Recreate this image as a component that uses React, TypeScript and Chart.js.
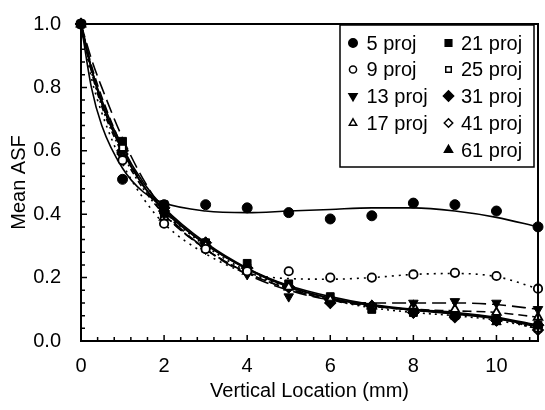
import React, { useEffect, useRef } from 'react';
import { Chart, registerables } from 'chart.js';
import { drawPoint } from 'chart.js/helpers';

Chart.register(...registerables);

// ---- data ----
const xPositions = [0, 1, 2, 3, 4, 5, 6, 7, 8, 9, 10, 11];
const seriesLabels = ['5 proj', '9 proj', '13 proj', '17 proj', '21 proj', '25 proj', '31 proj', '41 proj', '61 proj'];

const proj5 = [1.0, 0.51, 0.43, 0.43, 0.42, 0.405, 0.385, 0.395, 0.435, 0.43, 0.41, 0.36];
const proj9 = [1.0, 0.57, 0.37, 0.29, 0.22, 0.22, 0.2, 0.2, 0.21, 0.215, 0.205, 0.165];
const proj13 = [1.0, 0.58, 0.4, 0.29, 0.21, 0.14, 0.12, 0.11, 0.12, 0.125, 0.12, 0.1];
const proj17 = [1.0, 0.58, 0.39, 0.3, 0.22, 0.17, 0.13, 0.11, 0.11, 0.1, 0.09, 0.075];
const proj21 = [1.0, 0.63, 0.43, 0.31, 0.245, 0.18, 0.14, 0.1, 0.09, 0.08, 0.065, 0.05];
const proj25 = [1.0, 0.61, 0.4, 0.3, 0.23, 0.18, 0.13, 0.1, 0.09, 0.08, 0.07, 0.04];
const proj31 = [1.0, 0.6, 0.42, 0.31, 0.23, 0.17, 0.13, 0.11, 0.09, 0.08, 0.065, 0.05];
const proj41 = [1.0, 0.59, 0.41, 0.3, 0.22, 0.17, 0.12, 0.11, 0.09, 0.075, 0.07, 0.035];
const proj61 = [1.0, 0.6, 0.41, 0.31, 0.23, 0.17, 0.13, 0.11, 0.1, 0.08, 0.06, 0.05];

// fitted curves at these x positions
const fitX = [0, 0.25, 0.5, 1, 1.5, 2, 3, 4, 5, 6, 7, 8, 9, 10, 11];
const fit5 = [1.0, 0.8, 0.68, 0.545, 0.47, 0.435, 0.41, 0.405, 0.41, 0.415, 0.42, 0.42, 0.41, 0.39, 0.36];
const fit9 = [1.0, 0.83, 0.72, 0.56, 0.45, 0.37, 0.275, 0.215, 0.197, 0.195, 0.2, 0.21, 0.213, 0.203, 0.165];
const fit13 = [1.0, 0.89, 0.8, 0.64, 0.51, 0.41, 0.29, 0.21, 0.16, 0.13, 0.12, 0.12, 0.12, 0.115, 0.1];
const fit17 = [1.0, 0.87, 0.77, 0.61, 0.49, 0.4, 0.29, 0.215, 0.165, 0.13, 0.11, 0.1, 0.095, 0.09, 0.075];
const fit21 = [1.0, 0.86, 0.76, 0.61, 0.5, 0.42, 0.31, 0.23, 0.175, 0.14, 0.115, 0.1, 0.09, 0.075, 0.05];
const fit25 = [1.0, 0.85, 0.75, 0.6, 0.49, 0.41, 0.3, 0.22, 0.17, 0.13, 0.105, 0.09, 0.08, 0.065, 0.04];
const fit31 = [1.0, 0.86, 0.75, 0.6, 0.49, 0.415, 0.305, 0.228, 0.172, 0.135, 0.113, 0.098, 0.087, 0.072, 0.048];
const fit41 = [1.0, 0.85, 0.74, 0.59, 0.48, 0.4, 0.29, 0.215, 0.165, 0.13, 0.11, 0.097, 0.087, 0.072, 0.038];
const fit61 = [1.0, 0.86, 0.75, 0.6, 0.49, 0.41, 0.305, 0.226, 0.17, 0.135, 0.112, 0.097, 0.085, 0.07, 0.045];

const yTicks = [0, 0.2, 0.4, 0.6, 0.8, 1.0];

const FONT = '"Liberation Sans", Arial, sans-serif';

type Marker = { style: string; rotation: number; radius: number; filled: boolean };
const markers: Marker[] = [
  { style: 'circle', rotation: 0, radius: 5, filled: true },
  { style: 'circle', rotation: 0, radius: 4.2, filled: false },
  { style: 'triangle', rotation: 180, radius: 5.5, filled: true },
  { style: 'triangle', rotation: 0, radius: 5, filled: false },
  { style: 'rect', rotation: 0, radius: 5.5, filled: true },
  { style: 'rect', rotation: 0, radius: 4.6, filled: false },
  { style: 'rectRot', rotation: 0, radius: 6, filled: true },
  { style: 'rectRot', rotation: 0, radius: 5, filled: false },
  { style: 'triangle', rotation: 0, radius: 5.5, filled: true },
];

const seriesValues = [proj5, proj9, proj13, proj17, proj21, proj25, proj31, proj41, proj61];
const fitValues = [fit5, fit9, fit13, fit17, fit21, fit25, fit31, fit41, fit61];
const fitDashes: number[][] = [[], [2, 5], [14, 6], [9, 5], [], [2, 4], [], [6, 3, 2, 3], []];

const minorTicks: any = {
  id: 'minorTicks',
  afterDraw(chart: any) {
    const { ctx, chartArea } = chart;
    const xs = chart.scales.x;
    const ys = chart.scales.y;
    ctx.save();
    ctx.strokeStyle = '#000';
    ctx.lineWidth = 1.5;
    ctx.beginPath();
    for (let i = 0; i * 0.4 <= 11; i++) {
      const px = xs.getPixelForValue(i * 0.4);
      const len = i % 5 === 0 ? 6 : 4;
      ctx.moveTo(px, chartArea.bottom);
      ctx.lineTo(px, chartArea.bottom - len);
    }
    for (let i = 0; i <= 25; i++) {
      const py = ys.getPixelForValue(i * 0.04);
      const len = i % 5 === 0 ? 6 : 4;
      ctx.moveTo(chartArea.left, py);
      ctx.lineTo(chartArea.left + len, py);
    }
    ctx.stroke();
    // frame top & right
    ctx.lineWidth = 2;
    ctx.beginPath();
    ctx.moveTo(chartArea.left, chartArea.top);
    ctx.lineTo(chartArea.right, chartArea.top);
    ctx.lineTo(chartArea.right, chartArea.bottom);
    ctx.stroke();
    ctx.restore();
  },
};

const legendBox: any = {
  id: 'legendBox',
  afterDraw(chart: any) {
    const { ctx } = chart;
    ctx.save();
    const bx = 340, by = 25, bw = 194, bh = 142;
    ctx.fillStyle = '#fff';
    ctx.fillRect(bx, by, bw, bh);
    ctx.strokeStyle = '#000';
    ctx.lineWidth = 1.5;
    ctx.strokeRect(bx, by, bw, bh);
    ctx.font = `20px ${FONT}`;
    ctx.textBaseline = 'middle';
    ctx.textAlign = 'left';
    const rowY = [43, 69.5, 96, 123, 150];
    seriesLabels.forEach((label, i) => {
      const col = i < 4 ? 0 : 1;
      const row = i < 4 ? i : i - 4;
      const mx = col === 0 ? 353 : 448.5;
      const tx = col === 0 ? 366.5 : 461;
      const y = rowY[row];
      const m = markers[i];
      ctx.fillStyle = m.filled ? '#000' : '#fff';
      ctx.strokeStyle = '#000';
      drawPoint(ctx, { pointStyle: m.style as any, radius: m.radius * 0.85, rotation: m.rotation, borderWidth: 1.5 }, mx, y);
      ctx.fillStyle = '#000';
      ctx.fillText(label, tx, y + 1);
    });
    ctx.restore();
  },
};

export default function App() {
  const canvasRef = useRef<HTMLCanvasElement>(null);

  useEffect(() => {
    if (!canvasRef.current) return;
    const datasets: any[] = [];
    fitValues.forEach((vals, i) => {
      datasets.push({
        label: 'fit ' + seriesLabels[i],
        data: fitX.map((x, k) => ({ x, y: vals[k] })),
        showLine: true,
        borderColor: '#000',
        borderWidth: 1.6,
        borderDash: fitDashes[i],
        pointRadius: 0,
        cubicInterpolationMode: 'monotone',
        clip: false,
        order: 2,
      });
    });
    seriesValues.forEach((vals, i) => {
      const m = markers[i];
      datasets.push({
        label: seriesLabels[i],
        data: xPositions.map((x, k) => ({ x, y: vals[k] })),
        showLine: false,
        pointStyle: m.style,
        pointRotation: m.rotation,
        pointRadius: m.radius,
        pointBackgroundColor: m.filled ? '#000' : '#fff',
        pointBorderColor: '#000',
        pointBorderWidth: m.filled ? 1 : 1.8,
        clip: false,
        order: 1,
      });
    });

    const chart = new Chart(canvasRef.current, {
      type: 'scatter',
      data: { datasets },
      options: {
        animation: false,
        responsive: false,
        maintainAspectRatio: false,
        layout: { padding: { left: 0, top: 17, right: 3, bottom: 0 } },
        plugins: { legend: { display: false }, tooltip: { enabled: false } },
        scales: {
          x: {
            type: 'linear',
            min: 0,
            max: 11,
            grid: { display: false },
            border: { display: true, color: '#000', width: 2 },
            ticks: {
              stepSize: 2,
              includeBounds: false,
              color: '#000',
              font: { family: FONT, size: 20 },
              padding: 5,
              callback: (v: any) => String(v),
            },
            title: {
              display: true,
              text: 'Vertical Location (mm)',
              color: '#000',
              font: { family: FONT, size: 20 },
              padding: { top: 4, bottom: 7 },
            },
            afterFit: (s: any) => { s.height = 69; },
          },
          y: {
            type: 'linear',
            min: 0,
            max: 1,
            grid: { display: false },
            border: { display: true, color: '#000', width: 2 },
            afterBuildTicks: (s: any) => { s.ticks = yTicks.map((v) => ({ value: v })); },
            ticks: {
              color: '#000',
              font: { family: FONT, size: 20 },
              padding: 12,
              callback: (v: any) => Number(v).toFixed(1),
            },
            title: {
              display: true,
              text: 'Mean ASF',
              color: '#000',
              font: { family: FONT, size: 20 },
              padding: { top: 7, bottom: 6 },
            },
            afterFit: (s: any) => { s.width = 81; },
          },
        },
      },
      plugins: [minorTicks, legendBox],
    });
    return () => chart.destroy();
  }, []);

  return (
    <div style={{ position: 'fixed', left: 0, top: 0, width: 545, height: 410, background: '#fff' }}>
      <canvas ref={canvasRef} width={545} height={410} style={{ width: 545, height: 410 }} />
    </div>
  );
}
